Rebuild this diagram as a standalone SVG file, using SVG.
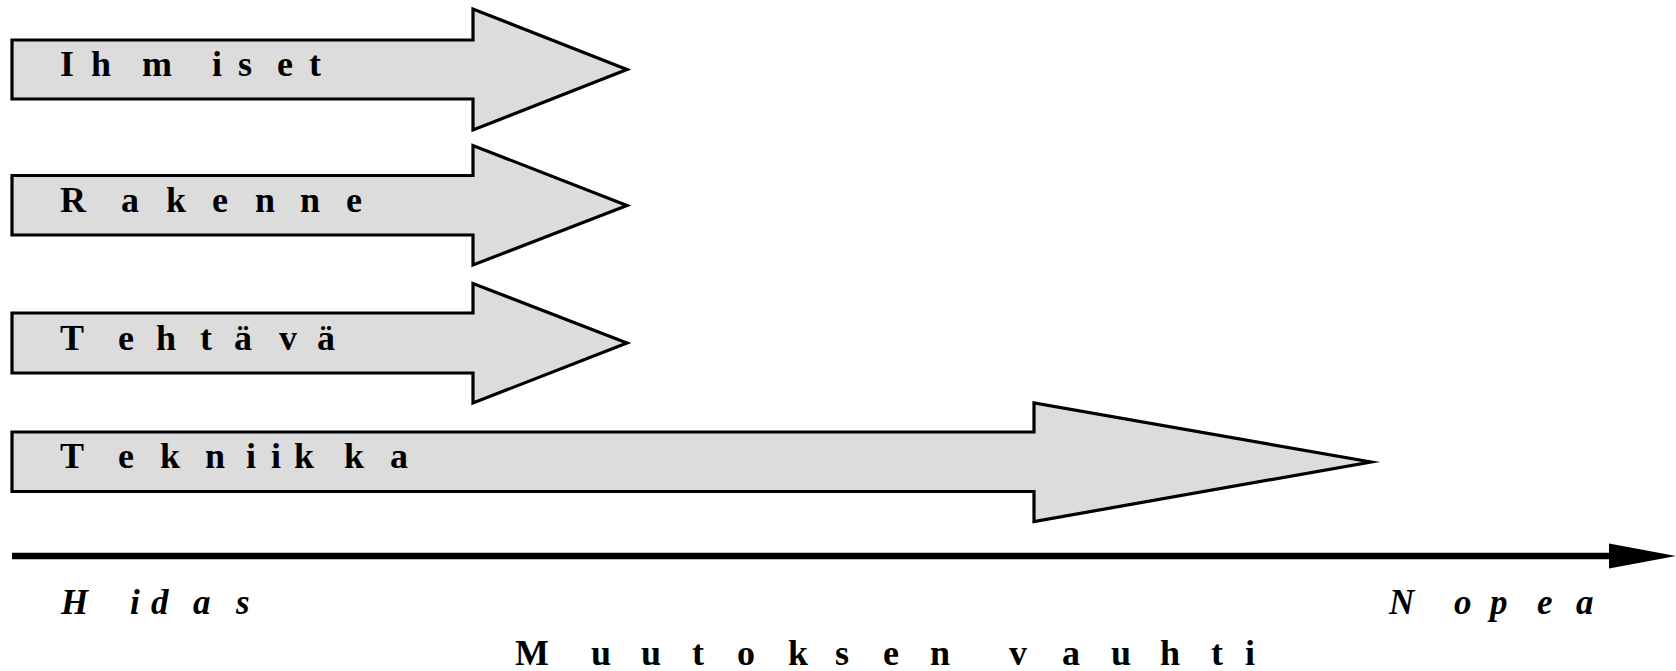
<svg xmlns="http://www.w3.org/2000/svg" width="1676" height="671" viewBox="0 0 1676 671">
<style>
.arrow{fill:#dcdcdc;stroke:#000;stroke-width:3.2;stroke-linejoin:miter;stroke-miterlimit:20}
text{font-family:"Liberation Serif", "Times New Roman", serif;font-weight:700;font-size:36px;fill:#000}
.it{font-style:italic;font-size:35px}
</style>
<rect width="1676" height="671" fill="#fff"/>
<g id="ihmiset">
<polygon class="arrow" points="12,40 473,40 473,9 627,69.5 473,130 473,99 12,99"/>
<text x="60 91 142 212 238 277 309" y="76">Ihmiset</text>
</g>
<g id="rakenne">
<polygon class="arrow" points="12,175.5 473,175.5 473,145.5 627,205.5 473,265 473,235 12,235"/>
<text x="60 121 166 212 255 300 346" y="212">Rakenne</text>
</g>
<g id="tehtava">
<polygon class="arrow" points="12,313 473,313 473,283.5 627,343 473,403 473,373 12,373"/>
<text x="60 118 156 200 234 279 317" y="350">Tehtävä</text>
</g>
<g id="tekniikka">
<polygon class="arrow" points="12,432 1034,432 1034,403 1371,462 1034,521.5 1034,491.5 12,491.5"/>
<text x="60 118 160 205 246 271 294 344 390" y="468">Tekniikka</text>
</g>
<g id="connectors">
<line x1="12" y1="556" x2="1612" y2="556" stroke="#000" stroke-width="6.5"/>
<polygon points="1609,543.5 1676,556 1609,568.5" fill="#000"/>
</g>
<g id="hidas">
<text class="it" x="61 130 151 193 236" y="614">Hidas</text>
</g>
<g id="nopea">
<text class="it" x="1389 1454 1490 1537 1576" y="614">Nopea</text>
</g>
<g id="muutoksen-vauhti">
<text x="515 591 641 692 737 788 835 883 930 970 1009 1062 1111 1160 1211 1245" y="665">Muutoksen vauhti</text>
</g>
</svg>
